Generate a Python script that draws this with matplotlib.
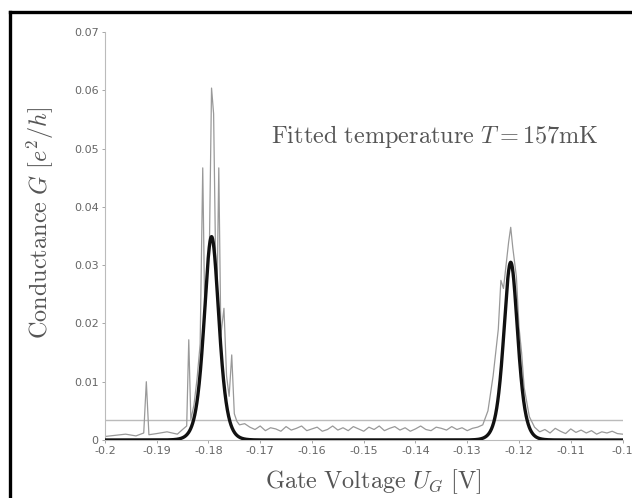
import numpy as np
import matplotlib
matplotlib.use("Agg")
import matplotlib.pyplot as plt
from matplotlib.lines import Line2D

plt.rcParams["mathtext.fontset"] = "cm"

meas_v = [
    -0.2000, -0.1980, -0.1960, -0.1940, -0.1925, -0.1920, -0.1915, -0.1900,
    -0.1880, -0.1860, -0.1850, -0.1842, -0.1838, -0.1834, -0.1828, -0.1822,
    -0.1816, -0.1811, -0.1807, -0.1802, -0.1798, -0.1794, -0.1790, -0.1786,
    -0.1783, -0.1780, -0.1776, -0.1770, -0.1765, -0.1760, -0.1755, -0.1750,
    -0.1745, -0.1740, -0.1730, -0.1720, -0.1710, -0.1700, -0.1690, -0.1680,
    -0.1670, -0.1660, -0.1650, -0.1640, -0.1630, -0.1620, -0.1610, -0.1600,
    -0.1590, -0.1580, -0.1570, -0.1560, -0.1550, -0.1540, -0.1530, -0.1520,
    -0.1510, -0.1500, -0.1490, -0.1480, -0.1470, -0.1460, -0.1450, -0.1440,
    -0.1430, -0.1420, -0.1410, -0.1400, -0.1390, -0.1380, -0.1370, -0.1360,
    -0.1350, -0.1340, -0.1330, -0.1320, -0.1310, -0.1300, -0.1290, -0.1280,
    -0.1270, -0.1260, -0.1250, -0.1240, -0.1235, -0.1230, -0.1225, -0.1220,
    -0.1216, -0.1212, -0.1205, -0.1200, -0.1195, -0.1190, -0.1180, -0.1170,
    -0.1160, -0.1150, -0.1140, -0.1130, -0.1120, -0.1110, -0.1100, -0.1090,
    -0.1080, -0.1070, -0.1060, -0.1050, -0.1040, -0.1030, -0.1020, -0.1010,
    -0.1000,
]
meas_g = [
    0.0006, 0.0008, 0.0010, 0.0007, 0.0012, 0.0100, 0.0009, 0.0011,
    0.0014, 0.0010, 0.0018, 0.0024, 0.0172, 0.0035, 0.0060, 0.0105,
    0.0165, 0.0467, 0.0210, 0.0290, 0.0340, 0.0604, 0.0560, 0.0300,
    0.0270, 0.0467, 0.0180, 0.0226, 0.0110, 0.0075, 0.0146, 0.0045,
    0.0032, 0.0026, 0.0028, 0.0022, 0.0018, 0.0024, 0.0016, 0.0021,
    0.0019, 0.0015, 0.0023, 0.0017, 0.0020, 0.0024, 0.0016, 0.0019,
    0.0022, 0.0015, 0.0018, 0.0024, 0.0017, 0.0021, 0.0016, 0.0023,
    0.0019, 0.0015, 0.0022, 0.0018, 0.0024, 0.0016, 0.0020, 0.0023,
    0.0017, 0.0021, 0.0015, 0.0019, 0.0024, 0.0018, 0.0016, 0.0022,
    0.0020, 0.0017, 0.0023, 0.0018, 0.0021, 0.0016, 0.0020, 0.0022,
    0.0026, 0.0050, 0.0110, 0.0190, 0.0274, 0.0260, 0.0300, 0.0340,
    0.0365, 0.0330, 0.0280, 0.0194, 0.0150, 0.0090, 0.0040, 0.0022,
    0.0014, 0.0018, 0.0012, 0.0020, 0.0015, 0.0011, 0.0019, 0.0013,
    0.0017, 0.0012, 0.0016, 0.0010, 0.0014, 0.0012, 0.0015, 0.0011,
    0.0010,
]

# fitted peaks: centre [V], height [e^2/h], width parameter [V]
peak_centres = [-0.1794, -0.1216]
peak_heights = [0.0349, 0.0305]
peak_widths = [0.0019, 0.0018]

threshold = 0.0034
x_ticks = [-0.2, -0.19, -0.18, -0.17, -0.16, -0.15, -0.14, -0.13, -0.12, -0.11, -0.1]
x_labels = ["-0.2", "-0.19", "-0.18", "-0.17", "-0.16", "-0.15", "-0.14",
            "-0.13", "-0.12", "-0.11", "-0.1"]
y_ticks = [0, 0.01, 0.02, 0.03, 0.04, 0.05, 0.06, 0.07]
y_labels = ["0", "0.01", "0.02", "0.03", "0.04", "0.05", "0.06", "0.07"]

fig = plt.figure(figsize=(6.32, 4.98), dpi=100)
ax = fig.add_axes([0.166, 0.1165, 0.819, 0.819])

v = np.linspace(-0.2, -0.1, 2000)
fit = np.zeros_like(v)
for c, h, w in zip(peak_centres, peak_heights, peak_widths):
    fit += h / np.cosh((v - c) / w) ** 2

ax.axhline(threshold, color="#bbbbbb", lw=1.0, zorder=1)
ax.plot(meas_v, meas_g, color="#999999", lw=0.9, zorder=2)
ax.plot(v, fit, color="#111111", lw=2.4, zorder=3)

ax.set_xlim(-0.2, -0.1)
ax.set_ylim(0, 0.07)
ax.set_xticks(x_ticks)
ax.set_xticklabels(x_labels)
ax.set_yticks(y_ticks)
ax.set_yticklabels(y_labels)
ax.tick_params(direction="out", length=2.5, width=0.6, colors="#999999",
               labelcolor="#666666", labelsize=8, pad=2)
for side in ["top", "right"]:
    ax.spines[side].set_visible(False)
for side in ["left", "bottom"]:
    ax.spines[side].set_color("#bbbbbb")
    ax.spines[side].set_linewidth(0.8)

ax.set_xlabel(r"$\mathrm{Gate\ Voltage}\ U_G\ \mathrm{[V]}$", fontsize=17.5,
              color="#555555", va="center")
ax.xaxis.set_label_coords(0.519, -0.103)
ax.set_ylabel(r"$\mathrm{Conductance}\ G\ [e^2/h]$", fontsize=17.5,
              color="#555555", va="center")
ax.yaxis.set_label_coords(-0.124, 0.532)
ax.text(0.637, 0.743, r"$\mathrm{Fitted\ temperature}\ T = 157\mathrm{mK}$",
        transform=ax.transAxes, ha="center", va="center", fontsize=17.5,
        color="#555555")

# scanned frame edges along the top and left
fig.add_artist(Line2D([10 / 632, 1.0], [1 - 12 / 498, 1 - 12 / 498],
                      transform=fig.transFigure, color="black", lw=2.4))
fig.add_artist(Line2D([10 / 632, 10 / 632], [0, 1 - 12 / 498],
                      transform=fig.transFigure, color="black", lw=2.4))

fig.savefig("out.png", dpi=100)
